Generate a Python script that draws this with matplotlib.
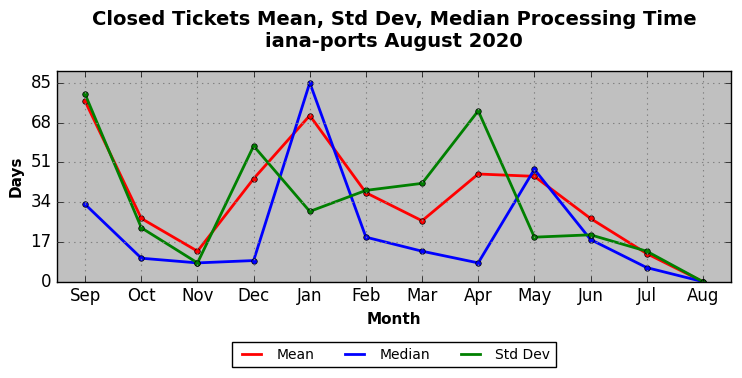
import matplotlib
matplotlib.use('Agg')
import matplotlib.pyplot as plt
from matplotlib.lines import Line2D

months = ['Sep', 'Oct', 'Nov', 'Dec', 'Jan', 'Feb', 'Mar', 'Apr', 'May', 'Jun', 'Jul', 'Aug']
mean_days = [77, 27, 13, 44, 71, 38, 26, 46, 45, 27, 12, 0]
median_days = [33, 10, 8, 9, 85, 19, 13, 8, 48, 18, 6, 0]
std_days = [80, 23, 8, 58, 30, 39, 42, 73, 19, 20, 13, 0]
yticks = [0, 17, 34, 51, 68, 85]

plt.style.use('classic')
fig, ax = plt.subplots(figsize=(7.42, 3.78), dpi=100)
fig.patch.set_facecolor('white')
ax.set_facecolor('#c0c0c0')

x = list(range(len(months)))
series = [(mean_days, 'red', 'Mean'), (median_days, 'blue', 'Median'), (std_days, 'green', 'Std Dev')]
handles = []
for vals, col, lab in series:
    ax.plot(x, vals, color=col, lw=2, marker='o', ms=4, mec='black', mew=0.5)
    handles.append(Line2D([], [], color=col, lw=2, label=lab))

ax.set_xticks(x)
ax.set_xticklabels(months)
ax.set_yticks(yticks)
ax.set_xlim(-0.5, 11.5)
ax.set_ylim(0, 90)
ax.grid(True, color='gray', linestyle=':', linewidth=0.8)
ax.tick_params(labelsize=12)
ax.set_xlabel('Month', fontsize=11, fontweight='bold')
ax.set_ylabel('Days', fontsize=11, fontweight='bold')
ax.set_title('Closed Tickets Mean, Std Dev, Median Processing Time\niana-ports August 2020',
             fontsize=14, fontweight='bold', y=1.08)

ax.legend(handles=handles, loc='upper center', bbox_to_anchor=(0.5, -0.255), ncol=3, fontsize=10,
          frameon=True, fancybox=False, columnspacing=1.9, handlelength=2.0)

plt.subplots_adjust(left=0.077, right=0.985, top=0.812, bottom=0.255)
plt.savefig('out.png', dpi=100)
